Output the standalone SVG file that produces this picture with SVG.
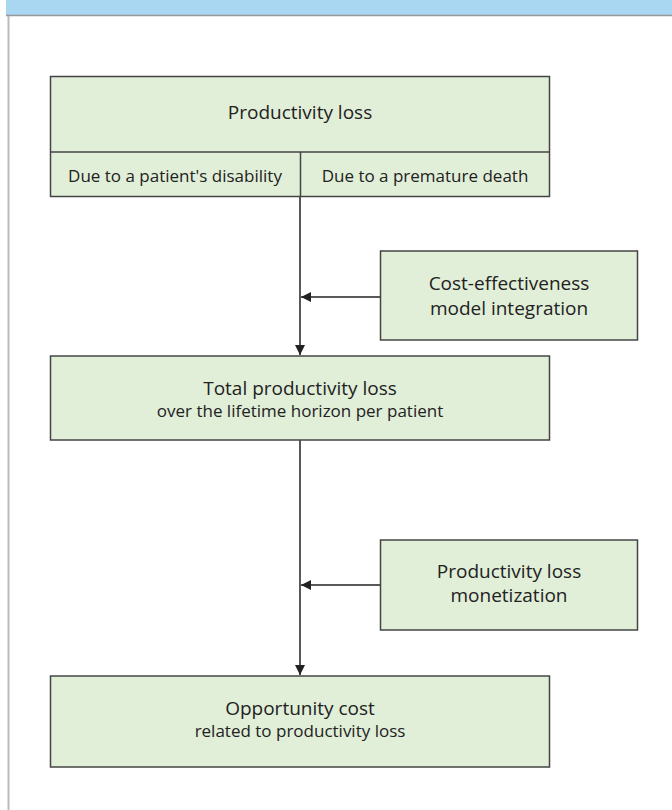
<svg xmlns="http://www.w3.org/2000/svg" width="672" height="810" viewBox="0 0 672 810">
<style>
.box{fill:#e1eed8;stroke:#444;stroke-width:1.5}
.t{font-family:"Open Sans","Noto Sans",sans-serif;fill:#222;text-anchor:middle}
.big{font-size:19px}
.sm{font-size:17px}
.edge{stroke:#222;stroke-width:1.5;fill:none}
</style>
<defs>
<marker id="ah" viewBox="0 0 10 10" refX="10" refY="5" markerWidth="10" markerHeight="10" markerUnits="userSpaceOnUse" orient="auto">
<path d="M0,0 L10,5 L0,10 Z" fill="#222"/>
</marker>
</defs>
<rect width="672" height="810" fill="#fff"/>
<g id="frame">
<rect x="6" y="0" width="666" height="15" fill="#a9d6f0"/>
<line x1="6" y1="15.5" x2="672" y2="15.5" stroke="#999" stroke-width="1.5"/>
<line x1="8.5" y1="16" x2="8.5" y2="810" stroke="#bbb" stroke-width="2"/>
</g>
<g id="connectors">
<path class="edge" d="M300,197 V355" marker-end="url(#ah)"/>
<path class="edge" d="M380,297 H301" marker-end="url(#ah)"/>
<path class="edge" d="M300,440 V675" marker-end="url(#ah)"/>
<path class="edge" d="M380,585 H301" marker-end="url(#ah)"/>
</g>
<g id="productivity-loss">
<rect class="box" x="50.5" y="76.5" width="499" height="120"/>
<line x1="50.5" y1="152" x2="549.5" y2="152" stroke="#444" stroke-width="1.5"/>
<line x1="300.5" y1="152" x2="300.5" y2="196.5" stroke="#444" stroke-width="1.5"/>
<text class="t big" x="300" y="119">Productivity loss</text>
<text class="t sm" x="175" y="182">Due to a patient's disability</text>
<text class="t sm" x="425" y="182">Due to a premature death</text>
</g>
<g id="cost-effectiveness">
<rect class="box" x="380.5" y="251" width="257" height="89"/>
<text class="t big" x="509" y="290">Cost-effectiveness</text>
<text class="t big" x="509" y="315">model integration</text>
</g>
<g id="total-productivity-loss">
<rect class="box" x="50.5" y="356" width="499" height="84"/>
<text class="t big" x="300" y="395">Total productivity loss</text>
<text class="t sm" x="300" y="417">over the lifetime horizon per patient</text>
</g>
<g id="monetization">
<rect class="box" x="380.5" y="540" width="257" height="90"/>
<text class="t big" x="509" y="578">Productivity loss</text>
<text class="t big" x="509" y="602">monetization</text>
</g>
<g id="opportunity-cost">
<rect class="box" x="50.5" y="676" width="499" height="91"/>
<text class="t big" x="300" y="715">Opportunity cost</text>
<text class="t sm" x="300" y="737">related to productivity loss</text>
</g>
</svg>
